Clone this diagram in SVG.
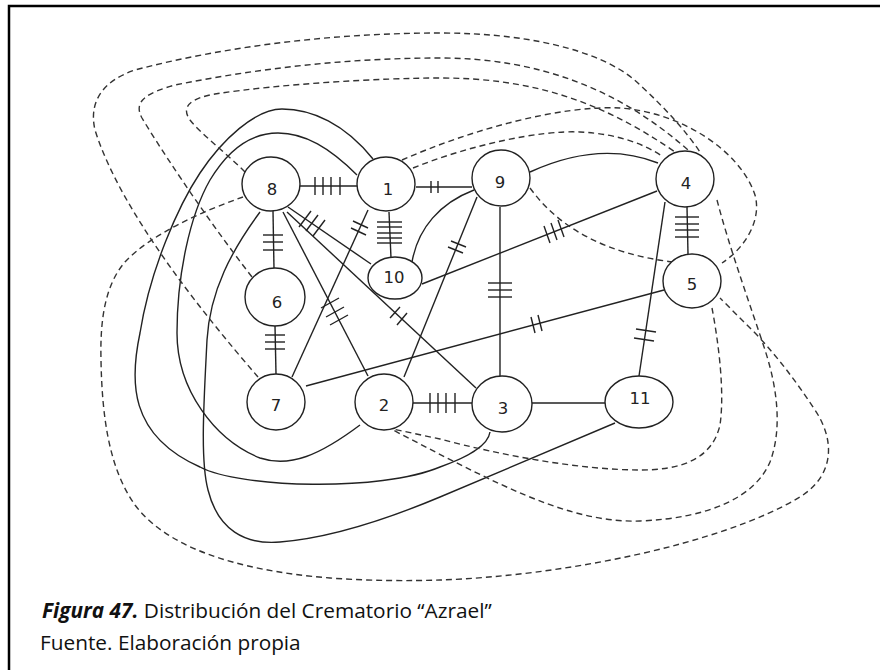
<svg xmlns="http://www.w3.org/2000/svg" width="880" height="670" viewBox="0 0 880 670">
<style>
.frame{fill:none;stroke:#000;stroke-width:2.5}
.node{fill:#fff;stroke:#222;stroke-width:1.4}
.lbl{font-family:"DejaVu Sans",sans-serif;font-size:16.5px;fill:#222;text-anchor:middle}
.e{fill:none;stroke:#222;stroke-width:1.4}
.d{fill:none;stroke:#333;stroke-width:1.4;stroke-dasharray:6 4}
.t{stroke:#222;stroke-width:1.4}
.cap{font-family:"Open Sans",sans-serif;font-size:20.8px;fill:#111}
</style>
<rect class="frame" x="9" y="6" width="900" height="700"/>
<g id="connectors">
  <line class="e" x1="300" y1="186" x2="357" y2="186"/>
  <line class="e" x1="416" y1="187" x2="472" y2="187"/>
  <line class="e" x1="273" y1="211" x2="274" y2="269"/>
  <line class="e" x1="275" y1="326" x2="276" y2="374"/>
  <line class="e" x1="389" y1="212" x2="391" y2="258"/>
  <line class="e" x1="288" y1="207" x2="371" y2="264"/>
  <line class="e" x1="287" y1="212" x2="476" y2="388"/>
  <line class="e" x1="283" y1="212" x2="368" y2="376"/>
  <line class="e" x1="368" y1="210" x2="292" y2="377"/>
  <line class="e" x1="477" y1="197" x2="404" y2="377"/>
  <line class="e" x1="500" y1="207" x2="500" y2="376"/>
  <line class="e" x1="422" y1="284" x2="657" y2="191"/>
  <line class="e" x1="687" y1="207" x2="688" y2="254"/>
  <line class="e" x1="665" y1="202" x2="639" y2="376"/>
  <line class="e" x1="664" y1="290" x2="306" y2="386"/>
  <line class="e" x1="413" y1="403" x2="472" y2="403"/>
  <line class="e" x1="532" y1="403" x2="605" y2="403"/>
  <path class="e" d="M412,262 C418,228 440,203 474,190"/>
  <path class="e" d="M530,172 Q600,140 658,163"/>
  <path class="e" d="M373,159 C345,124 312,109 282,109 C255,109 222,140 200,173 C178,206 150,270 140,333 C130,380 128,435 200,467 C240,488 380,492 440,467 C465,458 488,447 490,432"/>
  <path class="e" d="M357,175 C330,148 305,133 278,133 C250,133 228,150 210,180 C190,215 177,275 177,333 C177,390 215,440 260,458 C290,468 320,455 360,425"/>
  <path class="e" d="M260,212 C232,250 210,290 207,340 C204,400 200,460 208,490 C218,530 245,545 280,542 C330,538 390,518 440,497 L615,423"/>
  <path class="d" d="M245,172 C225,152 200,133 190,120 C180,106 192,98 215,94 C280,84 380,78 440,78 C530,78 600,100 675,152"/>
  <path class="d" d="M252,277 C200,210 155,140 142,118 C132,100 150,92 175,85 C260,68 350,58 440,58 C540,58 620,90 688,150"/>
  <path class="d" d="M258,377 C200,310 120,210 95,130 C88,100 105,80 135,70 C230,45 340,33 440,33 C540,33 610,55 640,85 C665,108 685,130 700,152"/>
  <path class="d" d="M243,197 C200,212 150,235 125,262 C105,285 100,320 101,360 C102,420 110,470 135,505 C165,545 230,570 330,578 C370,581 410,581 440,580 C560,576 720,545 800,497 C835,475 835,440 815,410 C795,380 780,360 757,335 L720,298"/>
  <path class="d" d="M402,160 C470,130 560,105 620,108 C680,112 740,150 755,195 C762,220 745,248 722,263"/>
  <path class="d" d="M413,168 C470,145 540,130 580,132 C620,134 645,145 662,156"/>
  <path class="d" d="M530,188 Q575,250 673,262"/>
  <path class="d" d="M712,308 C718,340 725,390 720,425 C712,460 680,470 640,470 C580,470 500,455 440,439 L393,429"/>
  <path class="d" d="M717,200 C730,250 752,310 765,350 C778,390 782,430 770,462 C755,497 710,518 640,521 C580,523 520,495 447,458 L393,430"/>
  <g id="ticks">
    <line class="t" x1="315" y1="177" x2="315" y2="195"/>
    <line class="t" x1="323" y1="177" x2="323" y2="195"/>
    <line class="t" x1="331" y1="177" x2="331" y2="195"/>
    <line class="t" x1="340" y1="177" x2="340" y2="195"/>
    <line class="t" x1="431" y1="181" x2="431" y2="193"/>
    <line class="t" x1="438" y1="181" x2="438" y2="193"/>
    <line class="t" x1="263" y1="235" x2="283" y2="235"/>
    <line class="t" x1="263" y1="242" x2="283" y2="242"/>
    <line class="t" x1="263" y1="250" x2="283" y2="250"/>
    <line class="t" x1="265" y1="335" x2="285" y2="335"/>
    <line class="t" x1="265" y1="342" x2="285" y2="342"/>
    <line class="t" x1="265" y1="349" x2="285" y2="349"/>
    <line class="t" x1="377" y1="222" x2="402" y2="222"/>
    <line class="t" x1="377" y1="227" x2="402" y2="227"/>
    <line class="t" x1="377" y1="233" x2="402" y2="233"/>
    <line class="t" x1="377" y1="238" x2="402" y2="238"/>
    <line class="t" x1="377" y1="243" x2="402" y2="243"/>
    <line class="t" x1="675" y1="217" x2="699" y2="217"/>
    <line class="t" x1="675" y1="224" x2="699" y2="224"/>
    <line class="t" x1="675" y1="230" x2="699" y2="230"/>
    <line class="t" x1="675" y1="237" x2="699" y2="237"/>
    <line class="t" x1="488" y1="283" x2="512" y2="283"/>
    <line class="t" x1="488" y1="290" x2="512" y2="290"/>
    <line class="t" x1="488" y1="297" x2="512" y2="297"/>
    <line class="t" x1="430" y1="393" x2="430" y2="413"/>
    <line class="t" x1="438" y1="393" x2="438" y2="413"/>
    <line class="t" x1="446" y1="393" x2="446" y2="413"/>
    <line class="t" x1="455" y1="393" x2="455" y2="413"/>
    <line class="t" x1="311" y1="211" x2="299" y2="227"/>
    <line class="t" x1="318" y1="215" x2="306" y2="231"/>
    <line class="t" x1="325" y1="220" x2="313" y2="236"/>
    <line class="t" x1="400" y1="307" x2="390" y2="318"/>
    <line class="t" x1="407" y1="313" x2="397" y2="325"/>
    <line class="t" x1="339" y1="298" x2="321" y2="308"/>
    <line class="t" x1="344" y1="307" x2="326" y2="317"/>
    <line class="t" x1="348" y1="315" x2="330" y2="325"/>
    <line class="t" x1="353" y1="221" x2="368" y2="228"/>
    <line class="t" x1="351" y1="228" x2="366" y2="235"/>
    <line class="t" x1="451" y1="241" x2="466" y2="247"/>
    <line class="t" x1="448" y1="247" x2="463" y2="253"/>
    <line class="t" x1="544" y1="226" x2="550" y2="243"/>
    <line class="t" x1="551" y1="223" x2="557" y2="240"/>
    <line class="t" x1="558" y1="220" x2="564" y2="237"/>
    <line class="t" x1="531" y1="317" x2="535" y2="333"/>
    <line class="t" x1="538" y1="315" x2="542" y2="331"/>
    <line class="t" x1="636" y1="329" x2="656" y2="332"/>
    <line class="t" x1="634" y1="338" x2="654" y2="341"/>
  </g>
</g>
<g id="node-8"><ellipse class="node" cx="271" cy="184" rx="29" ry="27"/><text class="lbl" x="272" y="195">8</text></g>
<g id="node-1"><ellipse class="node" cx="386" cy="184" rx="29" ry="27"/><text class="lbl" x="388" y="195">1</text></g>
<g id="node-9"><ellipse class="node" cx="501" cy="178" rx="29" ry="28"/><text class="lbl" x="500" y="188">9</text></g>
<g id="node-4"><ellipse class="node" cx="685" cy="179" rx="29" ry="28"/><text class="lbl" x="686" y="189">4</text></g>
<g id="node-10"><ellipse class="node" cx="395" cy="278" rx="27" ry="21"/><text class="lbl" x="394" y="283">10</text></g>
<g id="node-6"><ellipse class="node" cx="275" cy="297" rx="30" ry="29"/><text class="lbl" x="277" y="308">6</text></g>
<g id="node-5"><ellipse class="node" cx="692" cy="281" rx="29" ry="27"/><text class="lbl" x="692" y="290">5</text></g>
<g id="node-7"><ellipse class="node" cx="276" cy="402" rx="29" ry="28"/><text class="lbl" x="276" y="411">7</text></g>
<g id="node-2"><ellipse class="node" cx="384" cy="402" rx="29" ry="28"/><text class="lbl" x="384" y="411">2</text></g>
<g id="node-3"><ellipse class="node" cx="502" cy="404" rx="30" ry="28"/><text class="lbl" x="503" y="414">3</text></g>
<g id="node-11"><ellipse class="node" cx="639" cy="402" rx="34" ry="26"/><text class="lbl" x="640" y="404">11</text></g>
<text class="cap" x="42" y="618"><tspan font-weight="bold" font-style="italic">Figura 47.</tspan> Distribución del Crematorio “Azrael”</text>
<text class="cap" x="40" y="650">Fuente. Elaboración propia</text>
</svg>
